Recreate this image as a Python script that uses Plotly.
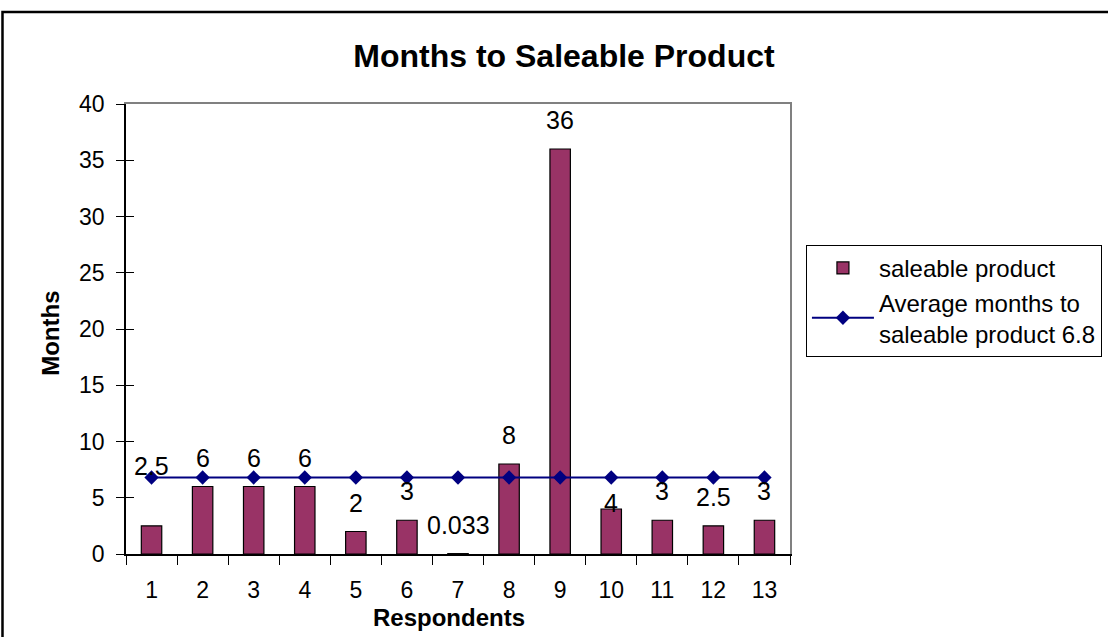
import plotly.graph_objects as go

# Survey results: months each respondent needed to reach a saleable product
respondents = ["1", "2", "3", "4", "5", "6", "7", "8", "9", "10", "11", "12", "13"]
months = [2.5, 6, 6, 6, 2, 3, 0.033, 8, 36, 4, 3, 2.5, 3]
average_months = [6.8, 6.8, 6.8, 6.8, 6.8, 6.8, 6.8, 6.8, 6.8, 6.8, 6.8, 6.8, 6.8]
value_labels = ["2.5", "6", "6", "6", "2", "3", "0.033", "8", "36", "4", "3", "2.5", "3"]
y_ticks = [0, 5, 10, 15, 20, 25, 30, 35, 40]

FONT = "Liberation Sans, Arial, sans-serif"
PLUM = "#993366"
NAVY = "#000080"

# vertical pixel lift of each value label above its bar top
label_lift = {"1": 60, "10": 6}
default_lift = 29

fig = go.Figure()

fig.add_trace(go.Bar(
    x=respondents, y=months, name="saleable product",
    marker=dict(color=PLUM, line=dict(color="black", width=1.2)),
    width=0.4,
))

fig.add_trace(go.Scatter(
    x=respondents, y=average_months, name="Average months to<br>saleable product 6.8",
    mode="lines+markers",
    line=dict(color=NAVY, width=2),
    marker=dict(symbol="diamond", size=11, color=NAVY),
))

annotations = []
# category axis: annotations are positioned by category index
for i, (cat, val, txt) in enumerate(zip(respondents, months, value_labels)):
    annotations.append(dict(
        x=i, y=val, xref="x", yref="y", text=txt, showarrow=False,
        yshift=label_lift.get(cat, default_lift), yanchor="middle",
        font=dict(family=FONT, size=25, color="black"),
    ))

annotations += [
    dict(text="<b>Months</b>", xref="paper", yref="paper", x=-0.114, y=0.49,
         textangle=-90, showarrow=False, xanchor="center", yanchor="middle",
         font=dict(family=FONT, size=24, color="black")),
    dict(text="<b>Respondents</b>", xref="paper", yref="paper", x=0.486, y=-0.142,
         showarrow=False, xanchor="center", yanchor="middle",
         font=dict(family=FONT, size=24, color="black")),
]

fig.update_layout(
    width=1108, height=637,
    margin=dict(l=126, r=318, t=104, b=83, autoexpand=False),
    paper_bgcolor="white", plot_bgcolor="white",
    font=dict(family=FONT, size=23, color="black"),
    title=dict(text="<b>Months to Saleable Product</b>", x=0.509, xref="container",
               y=0.912, yref="container", xanchor="center", yanchor="middle",
               font=dict(family=FONT, size=32, color="black")),
    bargap=0.6,
    showlegend=True,
    legend=dict(x=1.024, y=0.687, xanchor="left", yanchor="top",
                bordercolor="black", borderwidth=1, bgcolor="white",
                font=dict(family=FONT, size=24, color="black"),
                itemwidth=62),
    xaxis=dict(type="category", range=[-0.5, 12.5], showline=True, linecolor="black",
               linewidth=1.5, ticks="outside", ticklen=9, tickcolor="black",
               tickson="boundaries", ticklabelstandoff=15, showgrid=False,
               zeroline=False, tickfont=dict(family=FONT, size=23)),
    xaxis2=dict(overlaying="x", side="top", matches="x", type="category",
                showline=True, linecolor="#808080", linewidth=1.5,
                showticklabels=False, ticks="", showgrid=False),
    yaxis=dict(range=[0, 40], tickvals=y_ticks, showline=True, linecolor="black",
               linewidth=1.5, ticks="outside", ticklen=8, tickcolor="black",
               ticklabelstandoff=7, showgrid=False, zeroline=False,
               tickfont=dict(family=FONT, size=23)),
    yaxis2=dict(overlaying="y", side="left", matches="y", tickvals=y_ticks,
                ticks="inside", ticklen=8, tickcolor="black",
                showticklabels=False, showline=False, showgrid=False, zeroline=False),
    yaxis3=dict(overlaying="y", side="right", matches="y", showline=True,
                linecolor="#808080", linewidth=1.5, ticks="", showticklabels=False,
                showgrid=False, zeroline=False),
    annotations=annotations,
    shapes=[dict(type="rect", xref="paper", yref="paper",
                 x0=-0.186, y0=1.2045, x1=1.6, y1=-0.3,
                 line=dict(color="black", width=2.5), layer="below")],
)

# empty helper traces so the overlay axes are rendered
fig.add_trace(go.Scatter(x=[respondents[0]], y=[None], xaxis="x2", yaxis="y2",
                         showlegend=False, hoverinfo="skip"))
fig.add_trace(go.Scatter(x=[respondents[0]], y=[None], xaxis="x", yaxis="y3",
                         showlegend=False, hoverinfo="skip"))

fig.write_html("out.html")
